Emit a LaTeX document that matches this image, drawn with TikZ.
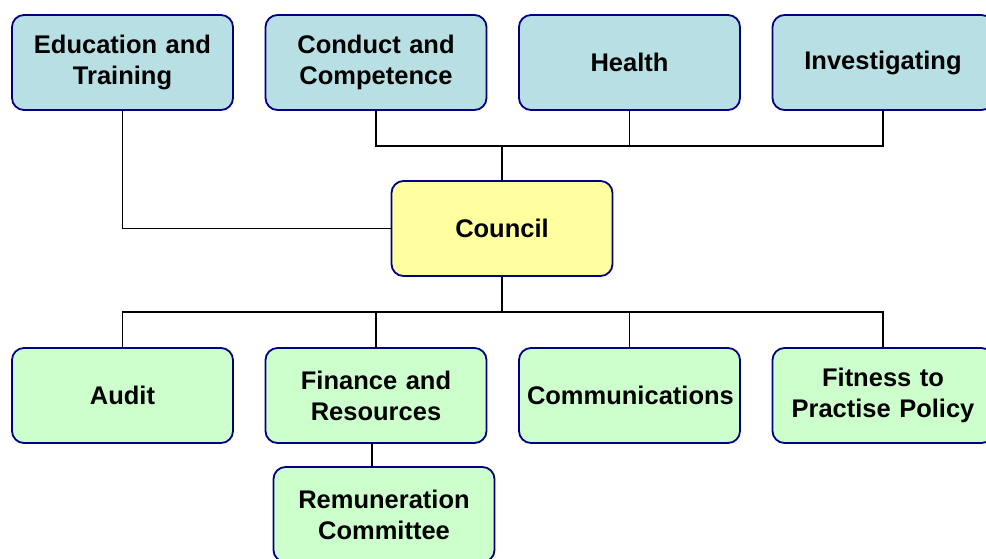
\documentclass[tikz,border=0pt]{standalone}
\usepackage{fontspec}
\setmainfont{Liberation Sans}
\usetikzlibrary{positioning,calc}
\definecolor{colorBORDER}{RGB}{0,0,128}
\definecolor{colorTOP}{RGB}{184,223,227}
\definecolor{colorCOUNCIL}{RGB}{255,255,160}
\definecolor{colorBOT}{RGB}{204,255,204}
\tikzset{
   every path/.style={>=stealth},
   unit/.style={draw=colorBORDER,line width=1.8pt,rounded corners=12pt,minimum width=221pt,minimum height=95pt,text width=205pt,align=center,inner sep=0pt,font=\bfseries\fontsize{25.5}{31}\selectfont},
   board/.style={unit,fill=colorTOP},
   council/.style={unit,fill=colorCOUNCIL},
   cttee/.style={unit,fill=colorBOT},
   link/.style={-,draw=black,line width=1.4pt},
}

\begin{document}
\begin{tikzpicture}[x=1pt,y=-1pt]
      \useasboundingbox (0,0) rectangle (986,558);
      \fill[white] (0,0) rectangle (986,558);
      \node[board] (edu) at (122.5,62.5) {Education and\\Training};
      \node[board] (cond) at (376,62.5) {Conduct and\\Competence};
      \node[board] (hlth) at (629.5,62.5) {Health};
      \node[board] (inv) at (883,62.5) {Investigating};
      \node[council] (cncl) at (502,228.5) {Council};
      \node[cttee] (aud) at (122.5,395.5) {Audit};
      \node[cttee] (fin) at (376,395.5) {Finance and\\Resources};
      \node[cttee] (comm) at (629.5,395.5) {Communications};
      \node[cttee] (fit) at (883,395.5) {Fitness to\\Practise Policy};
      \node[cttee] (rem) at (384,514.5) {Remuneration\\Committee};
      \coordinate (topbus) at (502,146);
      \coordinate (botbus) at (502,312);
      \draw[link] (edu.south)  |-  (cncl.west);
      \draw[link] (cond.south) -- (cond.south |- topbus) -- (inv.south |- topbus) -- (inv.south);
      \draw[link] (hlth.south) -- (hlth.south |- topbus);
      \draw[link] (cncl.north) -- (topbus);
      \draw[link] (cncl.south) -- (botbus);
      \draw[link] (aud.north) -- (aud.north |- botbus) -- (fit.north |- botbus) -- (fit.north);
      \draw[link] (fin.north) -- (fin.north |- botbus);
      \draw[link] (comm.north) -- (comm.north |- botbus);
      \draw[link] ([xshift=-4pt]fin.south) -- ([xshift=-4pt]fin.south |- rem.north);
    \end{tikzpicture}
\end{document}
